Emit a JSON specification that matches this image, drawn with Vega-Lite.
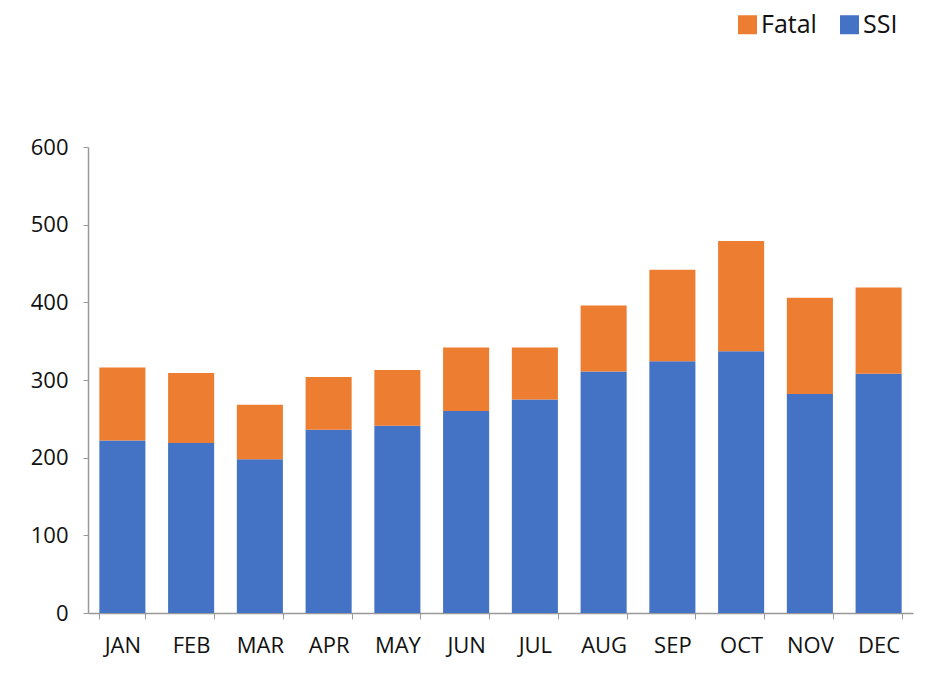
{
  "$schema": "https://vega.github.io/schema/vega-lite/v6.json",
  "width": 825,
  "height": 466,
  "autosize": {"type": "none"},
  "padding": {"left": 88, "top": 147, "right": 15, "bottom": 63},
  "background": "white",
  "config": {
    "view": {"stroke": null},
    "font": "Open Sans"
  },
  "data": {
    "values": [
      {"month": "JAN", "type": "SSI", "value": 222}, {"month": "JAN", "type": "Fatal", "value": 94},
      {"month": "FEB", "type": "SSI", "value": 219}, {"month": "FEB", "type": "Fatal", "value": 90},
      {"month": "MAR", "type": "SSI", "value": 198}, {"month": "MAR", "type": "Fatal", "value": 70},
      {"month": "APR", "type": "SSI", "value": 236}, {"month": "APR", "type": "Fatal", "value": 68},
      {"month": "MAY", "type": "SSI", "value": 241}, {"month": "MAY", "type": "Fatal", "value": 72},
      {"month": "JUN", "type": "SSI", "value": 260}, {"month": "JUN", "type": "Fatal", "value": 82},
      {"month": "JUL", "type": "SSI", "value": 275}, {"month": "JUL", "type": "Fatal", "value": 67},
      {"month": "AUG", "type": "SSI", "value": 311}, {"month": "AUG", "type": "Fatal", "value": 85},
      {"month": "SEP", "type": "SSI", "value": 324}, {"month": "SEP", "type": "Fatal", "value": 118},
      {"month": "OCT", "type": "SSI", "value": 337}, {"month": "OCT", "type": "Fatal", "value": 142},
      {"month": "NOV", "type": "SSI", "value": 282}, {"month": "NOV", "type": "Fatal", "value": 124},
      {"month": "DEC", "type": "SSI", "value": 308}, {"month": "DEC", "type": "Fatal", "value": 111}
    ]
  },
  "mark": {"type": "bar"},
  "encoding": {
    "x": {
      "field": "month",
      "type": "nominal",
      "sort": ["JAN","FEB","MAR","APR","MAY","JUN","JUL","AUG","SEP","OCT","NOV","DEC"],
      "scale": {"paddingInner": 0.33, "paddingOuter": 0.165},
      "axis": {
        "title": null,
        "labelAngle": 0,
        "labelFontSize": 22,
        "labelColor": "#111111",
        "labelPadding": 16,
        "tickBand": "extent",
        "tickSize": 6,
        "tickColor": "#999999",
        "domainColor": "#999999",
        "domainWidth": 1.5
      }
    },
    "y": {
      "field": "value",
      "type": "quantitative",
      "stack": "zero",
      "scale": {"domain": [0, 600], "nice": false},
      "axis": {
        "title": null,
        "values": [0, 100, 200, 300, 400, 500, 600],
        "grid": false,
        "labelFontSize": 22,
        "labelColor": "#111111",
        "labelPadding": 15,
        "tickSize": 5,
        "tickColor": "#999999",
        "domainColor": "#999999",
        "domainWidth": 1.5
      }
    },
    "color": {
      "field": "type",
      "type": "nominal",
      "scale": {"domain": ["Fatal", "SSI"], "range": ["#ED7D31", "#4472C4"]},
      "legend": {
        "title": null,
        "orient": "none",
        "direction": "horizontal",
        "legendX": 647,
        "legendY": -135,
        "symbolType": "square",
        "symbolSize": 361,
        "symbolOpacity": 1,
        "symbolStrokeWidth": 0,
        "labelFontSize": 25,
        "labelColor": "#111111",
        "labelOffset": 1,
        "columnPadding": 20
      }
    },
    "order": {"field": "type", "sort": "descending"}
  }
}
